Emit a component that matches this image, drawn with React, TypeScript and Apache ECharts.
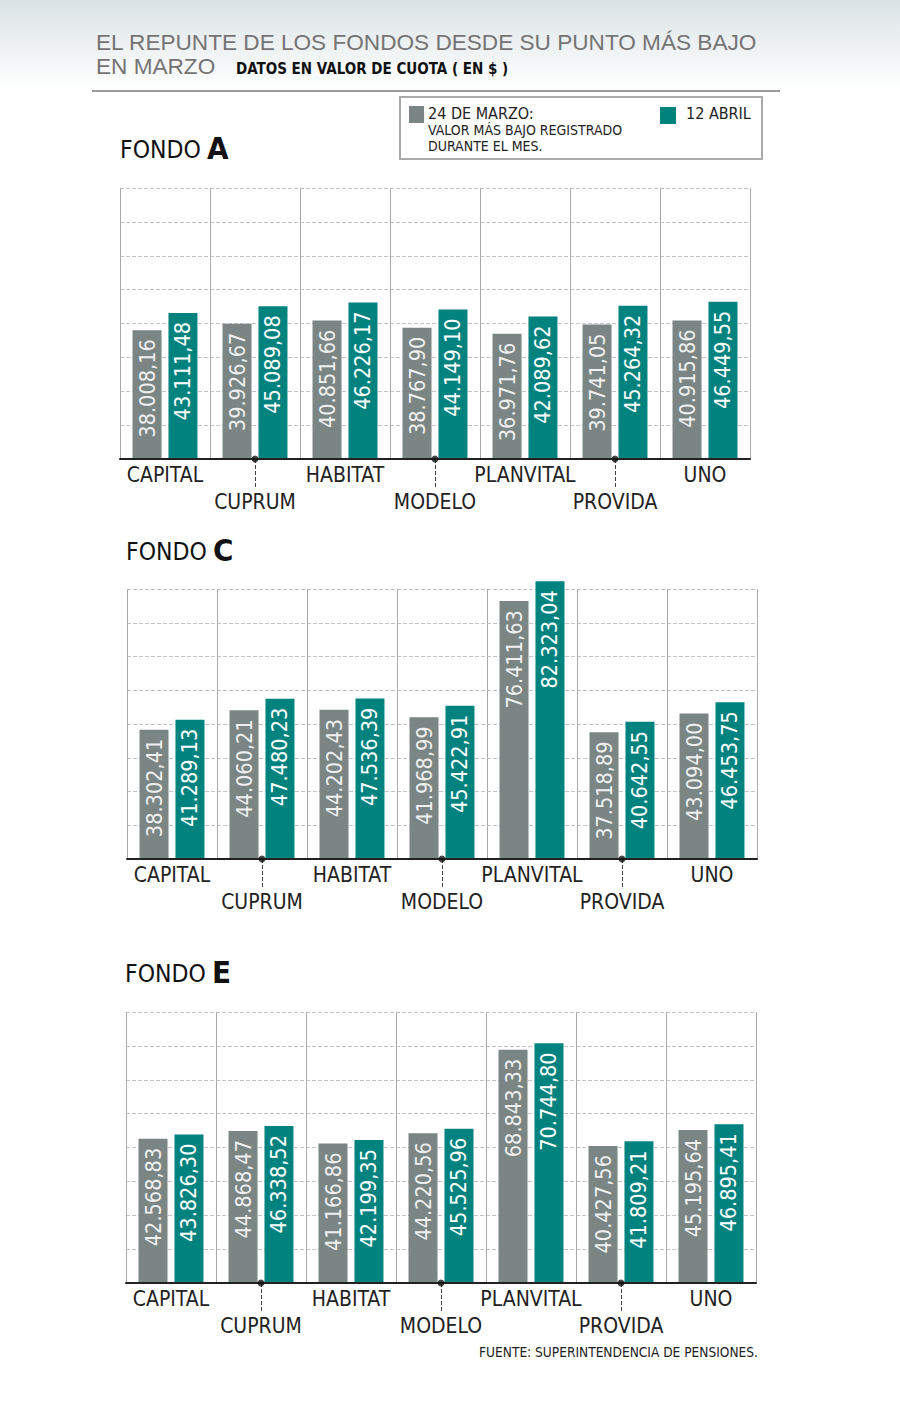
import React, { useEffect, useRef } from "react";
import * as echarts from "echarts";

const categories = ["CAPITAL", "CUPRUM", "HABITAT", "MODELO", "PLANVITAL", "PROVIDA", "UNO"];

const fondoA_marzo = [38008.16, 39926.67, 40851.66, 38767.9, 36971.76, 39741.05, 40915.86];
const fondoA_abril = [43111.48, 45089.08, 46226.17, 44149.1, 42089.62, 45264.32, 46449.55];

const fondoC_marzo = [38302.41, 44060.21, 44202.43, 41968.99, 76411.63, 37518.89, 43094.0];
const fondoC_abril = [41289.13, 47480.23, 47536.39, 45422.91, 82323.04, 40642.55, 46453.75];

const fondoE_marzo = [42568.83, 44868.47, 41166.86, 44220.56, 68843.33, 40427.56, 45195.64];
const fondoE_abril = [43826.3, 46338.52, 42199.35, 45525.96, 70744.8, 41809.21, 46895.41];

const fondoNames = ["A", "C", "E"];
const seriesNames = ["24 DE MARZO", "12 ABRIL"];

const yMin = 0;
const yMax = 80000;
const yInterval = 10000;

const GRAY = "#7a8584";
const TEAL = "#00827f";
const NARROW = '"Liberation Sans Narrow", "DejaVu Sans Condensed", Roboto, sans-serif';
const WIDE = '"Liberation Sans", Roboto, sans-serif';

const fmt = (v: number) => {
  const [i, d] = v.toFixed(2).split(".");
  return i.replace(/\B(?=(\d{3})+(?!\d))/g, ".") + "," + d;
};

export default function App() {
  const ref = useRef<HTMLDivElement>(null);

  useEffect(() => {
    if (!ref.current) return;
    const chart = echarts.init(ref.current, undefined, { renderer: "svg" });

    const data = [
      [fondoA_marzo, fondoA_abril],
      [fondoC_marzo, fondoC_abril],
      [fondoE_marzo, fondoE_abril],
    ];
    const grids = [
      { left: 120, top: 188, width: 630, height: 271 },
      { left: 127, top: 589, width: 630, height: 270 },
      { left: 126, top: 1012, width: 630, height: 271 },
    ];
    const heads = [
      { x: 120, y: 149 },
      { x: 126, y: 551 },
      { x: 125, y: 973 },
    ];

    const xAxis: any[] = [];
    const yAxis: any[] = [];
    const series: any[] = [];
    const graphic: any[] = [];

    grids.forEach((g, gi) => {
      xAxis.push({
        type: "category",
        gridIndex: gi,
        data: categories,
        boundaryGap: true,
        axisLine: { show: true, lineStyle: { color: "#222", width: 2 } },
        axisTick: {
          show: true,
          alignWithLabel: true,
          interval: (i: number) => i % 2 === 1,
          length: 30,
          lineStyle: { type: "dashed", color: "#444", width: 1 },
        },
        splitLine: { show: true, interval: 0, lineStyle: { color: "#aaa", width: 1 } },
        axisLabel: {
          interval: 0,
          margin: 2,
          fontSize: 21,
          lineHeight: 27,
          color: "#222",
          fontFamily: NARROW,
          formatter: (v: string, i: number) => (i % 2 === 1 ? "\n" + v : v),
        },
        z: 5,
      });
      yAxis.push({
        type: "value",
        gridIndex: gi,
        min: yMin,
        max: yMax,
        interval: yInterval,
        axisLabel: { show: false },
        axisLine: { show: false },
        axisTick: { show: false },
        splitLine: { show: true, lineStyle: { type: "dashed", color: "#c4c4c4", width: 1 } },
      });
      data[gi].forEach((vals, si) => {
        series.push({
          type: "bar",
          name: seriesNames[si],
          xAxisIndex: gi,
          yAxisIndex: gi,
          data: vals,
          barWidth: 29,
          barGap: "24%",
          clip: false,
          itemStyle: { color: si === 0 ? GRAY : TEAL },
          label: {
            show: true,
            position: "insideTop",
            rotate: 90,
            align: "right",
            verticalAlign: "middle",
            distance: 9,
            fontSize: 21.5,
            fontFamily: NARROW,
            color: si === 0 ? "#eef0f0" : "#ffffff",
            formatter: (p: any) => fmt(p.value),
          },
        });
      });
      series.push({
        type: "scatter",
        xAxisIndex: gi,
        yAxisIndex: gi,
        data: categories.map((_, i) => (i % 2 === 1 ? yMin : "-")),
        symbolSize: 7,
        itemStyle: { color: "#111" },
        clip: false,
        silent: true,
        z: 10,
      });

      const h = heads[gi];
      graphic.push({
        type: "text",
        x: h.x,
        y: h.y,
        style: {
          text: "FONDO",
          fontSize: 24.5,
          fontFamily: NARROW,
          fill: "#111",
          verticalAlign: "middle",
        },
      });
      graphic.push({
        type: "text",
        x: h.x + 87,
        y: h.y - 1,
        style: {
          text: fondoNames[gi],
          fontSize: 31,
          fontWeight: "bold",
          fontFamily: NARROW,
          fill: "#111",
          verticalAlign: "middle",
        },
      });
    });

    graphic.unshift(
      {
        type: "rect",
        shape: { x: 0, y: 0, width: 900, height: 90 },
        style: {
          fill: new echarts.graphic.LinearGradient(0, 0, 0, 1, [
            { offset: 0, color: "#dbe3e6" },
            { offset: 1, color: "#ffffff" },
          ]),
        },
        z: -10,
      },
      {
        type: "text",
        x: 96,
        y: 42,
        style: {
          text: "EL REPUNTE DE LOS FONDOS DESDE SU PUNTO MÁS BAJO",
          fontSize: 22.6,
          fontFamily: WIDE,
          fill: "#747474",
          verticalAlign: "middle",
        },
      },
      {
        type: "text",
        x: 96,
        y: 66,
        style: {
          text: "EN MARZO",
          fontSize: 22.6,
          fontFamily: WIDE,
          fill: "#747474",
          verticalAlign: "middle",
        },
      },
      {
        type: "text",
        x: 236,
        y: 69,
        style: {
          text: "DATOS EN VALOR DE CUOTA ( EN $ )",
          fontSize: 15,
          fontWeight: "bold",
          fontFamily: NARROW,
          fill: "#111",
          verticalAlign: "middle",
        },
      },
      {
        type: "line",
        shape: { x1: 92, y1: 91, x2: 780, y2: 91 },
        style: { stroke: "#9a9a9a", lineWidth: 2 },
      },
      {
        type: "rect",
        shape: { x: 400, y: 97, width: 362, height: 62 },
        style: { fill: "#fff", stroke: "#aaa", lineWidth: 2 },
      },
      {
        type: "rect",
        shape: { x: 409, y: 106, width: 15, height: 17 },
        style: { fill: GRAY },
      },
      {
        type: "text",
        x: 428,
        y: 113,
        style: { text: "24 DE MARZO:", fontSize: 16, fontFamily: NARROW, fill: "#222", verticalAlign: "middle" },
      },
      {
        type: "text",
        x: 428,
        y: 130,
        style: {
          text: "VALOR MÁS BAJO REGISTRADO",
          fontSize: 14,
          fontFamily: NARROW,
          fill: "#222",
          verticalAlign: "middle",
        },
      },
      {
        type: "text",
        x: 428,
        y: 146,
        style: { text: "DURANTE EL MES.", fontSize: 14, fontFamily: NARROW, fill: "#222", verticalAlign: "middle" },
      },
      {
        type: "rect",
        shape: { x: 660, y: 107, width: 16, height: 17 },
        style: { fill: TEAL },
      },
      {
        type: "text",
        x: 686,
        y: 113,
        style: { text: "12 ABRIL", fontSize: 16, fontFamily: NARROW, fill: "#222", verticalAlign: "middle" },
      },
      {
        type: "text",
        x: 758,
        y: 1352,
        style: {
          text: "FUENTE: SUPERINTENDENCIA DE PENSIONES.",
          fontSize: 13.6,
          fontFamily: NARROW,
          fill: "#222",
          align: "right",
          verticalAlign: "middle",
        },
      }
    );

    chart.setOption({
      animation: false,
      backgroundColor: "#ffffff",
      grid: grids,
      xAxis,
      yAxis,
      series,
      graphic,
    });

    return () => chart.dispose();
  }, []);

  return (
    <div
      ref={ref}
      style={{ position: "absolute", left: 0, top: 0, width: 900, height: 1404, background: "#fff" }}
    />
  );
}
